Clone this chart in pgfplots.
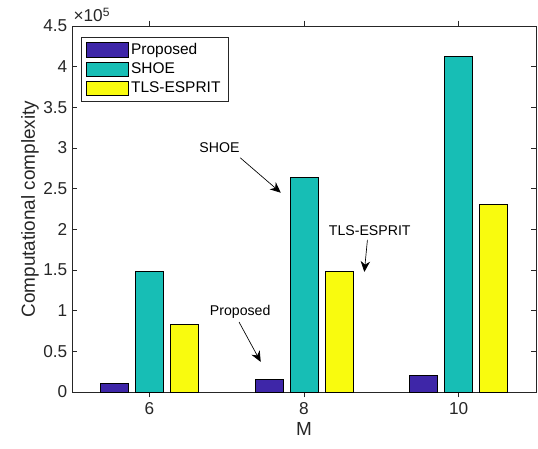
\documentclass[border=0pt]{standalone}
\usepackage{fontspec}
\setmainfont{Liberation Sans}
\usepackage{pgfplots}
\pgfplotsset{compat=1.18}
\usetikzlibrary{arrows.meta,calc}
\definecolor{cProp}{RGB}{62,38,168}
\definecolor{cShoe}{RGB}{23,190,181}
\definecolor{cTls}{RGB}{249,251,14}
\definecolor{axc}{RGB}{38,38,38}
\begin{document}
\begin{tikzpicture}
\begin{axis}[name=ax, at={(0,0)}, anchor=south west,
  scale only axis, width=348pt, height=274.5pt,
  xmin=5, xmax=11, ymin=0, ymax=450000,
  xtick={6,8,10}, xticklabels={6,8,10},
  ytick={0,50000,100000,150000,200000,250000,300000,350000,400000,450000},
  yticklabels={0,0.5,1,1.5,2,2.5,3,3.5,4,4.5},
  scaled y ticks=false,
  tick align=inside, major tick length=4pt,
  axis line style={axc, line width=0.4pt},
  tick style={axc, line width=0.4pt},
  tick label style={font=\fontsize{12.9}{15}\selectfont, text=axc},
  xlabel={M}, ylabel={Computational complexity},
  every axis x label/.style={at={(rel axis cs:0.5,0)}, yshift=-28pt, anchor=center, font=\fontsize{14.2}{17}\selectfont, text=axc},
  every axis y label/.style={at={(rel axis cs:0,0.5)}, xshift=-31.5pt, rotate=90, anchor=center, font=\fontsize{14.2}{17}\selectfont, text=axc},
  ybar, bar width=21pt,
  legend cell align=left,
  legend style={at={(0.019,0.97)}, anchor=north west, draw=axc, line width=0.4pt,
    font=\fontsize{11.6}{14}\selectfont, inner xsep=3.5pt, inner ysep=2.5pt, row sep=0.8pt,
    /tikz/every even column/.append style={column sep=1pt}},
  mylegend/.style={legend image code/.code={\draw[##1, draw=black, line width=0.5pt] (0pt,-5.5pt) rectangle (31.5pt,5.5pt);}},
]
\addplot[fill=cProp, draw=black, line width=0.5pt, bar shift=-26.25pt, mylegend] coordinates {(6,10700) (8,15600) (10,20900)};
\addlegendentry{Proposed}
\addplot[fill=cShoe, draw=black, line width=0.5pt, bar shift=0pt, mylegend] coordinates {(6,148500) (8,264000) (10,412300)};
\addlegendentry{SHOE}
\addplot[fill=cTls, draw=black, line width=0.5pt, bar shift=26.25pt, mylegend] coordinates {(6,83300) (8,148000) (10,231000)};
\addlegendentry{TLS-ESPRIT}
\node[font=\fontsize{10.6}{12}\selectfont, text=black] at (axis cs:6.907,300000) {SHOE};
\draw[black, line width=0.5pt, -{Stealth[length=8pt,width=7pt,inset=2.5pt]}] (axis cs:7.175,288000) -- (axis cs:7.70,245000);
\node[font=\fontsize{10.6}{12}\selectfont, text=black] at (axis cs:7.175,98400) {Proposed};
\draw[black, line width=0.5pt, -{Stealth[length=8pt,width=7pt,inset=2.5pt]}] (axis cs:7.16,86000) -- (axis cs:7.44,37000);
\node[font=\fontsize{10.6}{12}\selectfont, text=black] at (axis cs:8.85,199000) {TLS-ESPRIT};
\draw[black, line width=0.5pt, -{Stealth[length=8pt,width=7pt,inset=2.5pt]}] (axis cs:8.82,187000) -- (axis cs:8.78,147600);
\end{axis}
\node[anchor=base west, inner sep=0pt, font=\fontsize{12.9}{15}\selectfont, text=axc] at ($(ax.north west)+(1pt,3pt)$) {×10\textsuperscript{5}};
\pgfresetboundingbox
\path ($(ax.south west)+(-54pt,-42pt)$) rectangle ($(ax.north east)+(1.5pt,19.5pt)$);
\end{tikzpicture}
\end{document}
